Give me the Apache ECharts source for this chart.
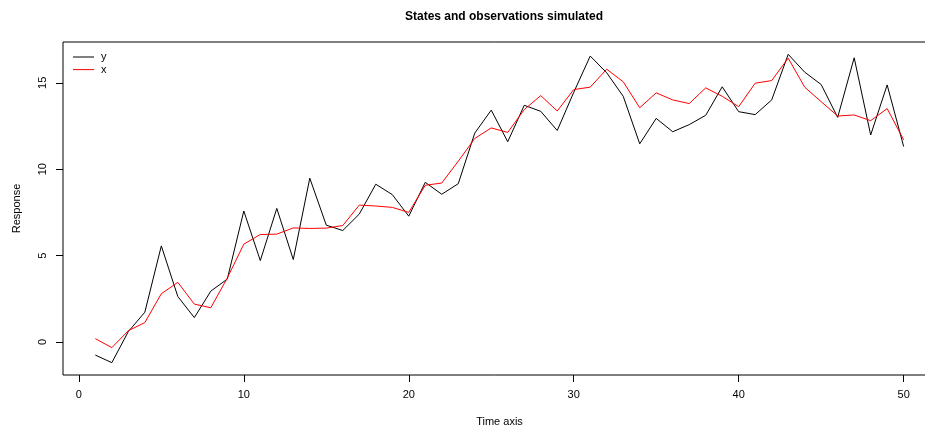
<!DOCTYPE html>
<html>
<head>
<meta charset="utf-8">
<script src="https://cdn.jsdelivr.net/npm/echarts@6/dist/echarts.min.js"></script>
<style>html,body{margin:0;padding:0;background:#fff}#c{width:925px;height:430px}</style>
</head>
<body>
<div id="c"></div>
<script>
const timeSteps = [1,2,3,4,5,6,7,8,9,10,11,12,13,14,15,16,17,18,19,20,21,22,23,24,25,26,27,28,29,30,31,32,33,34,35,36,37,38,39,40,41,42,43,44,45,46,47,48,49,50];
const yObs = [-0.76,-1.2,0.6,1.72,5.56,2.63,1.41,2.94,3.64,7.58,4.71,7.73,4.77,9.48,6.76,6.45,7.40,9.13,8.53,7.28,9.24,8.55,9.16,12.09,13.42,11.59,13.7,13.35,12.24,14.45,16.55,15.58,14.22,11.47,12.94,12.17,12.58,13.12,14.77,13.33,13.16,14.01,16.65,15.62,14.9,13.0,16.45,11.98,14.88,11.31];
const xState = [0.19,-0.33,0.65,1.12,2.79,3.45,2.19,1.98,3.7,5.66,6.22,6.24,6.6,6.57,6.59,6.74,7.92,7.87,7.79,7.5,9.07,9.2,10.46,11.78,12.39,12.13,13.45,14.26,13.37,14.61,14.75,15.79,15.06,13.56,14.42,14.01,13.8,14.71,14.22,13.62,14.98,15.13,16.43,14.75,13.91,13.08,13.14,12.81,13.51,11.7];
const xTicks = [0,10,20,30,40,50];
const yTicks = [0,5,10,15];

const font = 'Liberation Sans, Arial, Helvetica, sans-serif';
const chart = echarts.init(document.getElementById('c'), null, {renderer:'canvas'});
chart.setOption({
  animation: false,
  backgroundColor: '#fff',
  title: {
    text: 'States and observations simulated',
    left: 499, top: 6, textAlign: 'center',
    textStyle: {fontFamily: font, fontSize: 12, fontWeight: 'bold', color: '#000'}
  },
  legend: {
    orient: 'vertical', left: 73, top: 51.5, itemGap: 1.6, padding: 0,
    itemWidth: 21, itemHeight: 1,
    data: [{name:'y', icon:'rect'}, {name:'x', icon:'rect'}],
    textStyle: {fontFamily: font, fontSize: 11, color: '#000', padding: [0,0,0,2]}
  },
  grid: {
    left: 63, top: 42, width: 873, height: 333,
    outerBoundsMode: 'none', containLabel: false,
    show: true, borderColor: '#000', borderWidth: 1, backgroundColor: 'transparent'
  },
  xAxis: {
    type: 'value', min: -0.96, max: 51.96,
    name: 'Time axis', nameLocation: 'middle', nameGap: 41,
    nameTextStyle: {fontFamily: font, fontSize: 11, color: '#000'},
    axisLine: {show: false, onZero: false},
    axisTick: {show: true, inside: false, length: 7, customValues: xTicks, lineStyle: {color:'#000', width:1}},
    axisLabel: {show: true, margin: 14, customValues: xTicks, fontFamily: font, fontSize: 11, color: '#000'},
    splitLine: {show: false}
  },
  yAxis: {
    type: 'value', min: -1.914, max: 17.364,
    name: 'Response', nameLocation: 'middle', nameGap: 41, nameRotate: 90,
    nameTextStyle: {fontFamily: font, fontSize: 11, color: '#000'},
    axisLine: {show: false, onZero: false},
    axisTick: {show: true, inside: false, length: 7, customValues: yTicks, lineStyle: {color:'#000', width:1}},
    axisLabel: {show: true, margin: 15, rotate: 90, customValues: yTicks, fontFamily: font, fontSize: 11, color: '#000'},
    splitLine: {show: false}
  },
  series: [
    {name: 'y', type: 'line', data: timeSteps.map((t,i)=>[t, yObs[i]]), showSymbol: false, symbol: 'none',
     lineStyle: {color: '#000', width: 1}, itemStyle: {color: '#000'}},
    {name: 'x', type: 'line', data: timeSteps.map((t,i)=>[t, xState[i]]), showSymbol: false, symbol: 'none',
     lineStyle: {color: '#ff0000', width: 1}, itemStyle: {color: '#ff0000'}}
  ]
});
</script>
</body>
</html>
